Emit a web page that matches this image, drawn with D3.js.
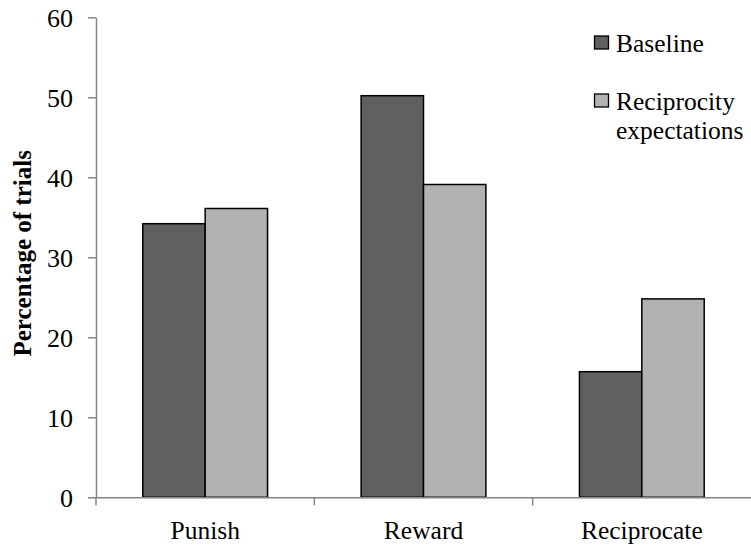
<!DOCTYPE html>
<html><head><meta charset="utf-8">
<script src="https://cdn.jsdelivr.net/npm/d3@7"></script>
<style>body{margin:0;background:#fff}svg{display:block}</style>
</head><body>
<svg id="c" width="751" height="546"></svg>
<script>
const categories = ["Punish", "Reward", "Reciprocate"];
const seriesNames = ["Baseline", "Reciprocity expectations"];
const baseline = [34.2, 50.2, 15.7];
const reciprocity = [36.1, 39.1, 24.8];
const yTicks = [0, 10, 20, 30, 40, 50, 60];

const colors = ["#606060", "#b2b2b2"];
const svg = d3.select("#c");
const font = "'Liberation Serif','Times New Roman',serif";
const mLeft = 96, mRight = 751, mTop = 17.3, mBottom = 497.3;

const x = d3.scaleBand().domain(categories).range([mLeft, mRight]).paddingInner(0).paddingOuter(0);
const y = d3.scaleLinear().domain([0, 60]).range([mBottom, mTop]);
const data = [baseline, reciprocity];
const groupW = x.bandwidth();
const barW = groupW / (2 + 1.5);
const xs = d3.scaleBand().domain([0, 1]).range([0, barW * 2]);

categories.forEach((c, i) => {
  data.forEach((s, j) => {
    svg.append("rect")
      .attr("x", x(c) + (groupW - barW * 2) / 2 + xs(j))
      .attr("y", y(s[i]))
      .attr("width", xs.bandwidth())
      .attr("height", y(0) - y(s[i]))
      .attr("fill", colors[j])
      .attr("stroke", "#000").attr("stroke-width", 1.5);
  });
});

// y axis
const yAxis = svg.append("g").attr("transform", `translate(${mLeft},0)`)
  .call(d3.axisLeft(y).tickValues(yTicks).tickSize(8).tickPadding(15).tickSizeOuter(0));
yAxis.select(".domain").attr("stroke", "#868686").attr("stroke-width", 1.5);
yAxis.selectAll(".tick line").attr("stroke", "#868686").attr("stroke-width", 1.5);
yAxis.selectAll("text").attr("font-family", font).attr("font-size", 26).attr("fill", "#000").attr("dy", "0.34em");

// x axis
const xAxis = svg.append("g").attr("transform", `translate(0,${mBottom})`)
  .call(d3.axisBottom(x).tickSize(0));
xAxis.select(".domain").attr("stroke", "#868686").attr("stroke-width", 1.5);
xAxis.selectAll("text").attr("font-family", font).attr("font-size", 25.5).attr("fill", "#000")
  .attr("y", 539.5 - mBottom).attr("dy", 0);
// category boundary ticks
const bounds = categories.map(c => x(c));
svg.append("g").selectAll("line").data(bounds).join("line")
  .attr("x1", d => d).attr("x2", d => d).attr("y1", mBottom).attr("y2", mBottom + 8)
  .attr("stroke", "#868686").attr("stroke-width", 1.5);

// y title
svg.append("text")
  .attr("transform", `translate(31,${(mTop + mBottom) / 2 - 4}) rotate(-90)`)
  .attr("text-anchor", "middle")
  .attr("font-family", font).attr("font-size", 25).attr("font-weight", "bold")
  .text("Percentage of trials");

// legend
const lg = svg.append("g");
const legendRows = [[seriesNames[0]], ["Reciprocity", "expectations"]];
const lgY = [36, 94];
legendRows.forEach((lines, j) => {
  lg.append("rect").attr("x", 594.5).attr("y", lgY[j]).attr("width", 14).attr("height", 13)
    .attr("fill", colors[j]).attr("stroke", "#000").attr("stroke-width", 1.3);
  lines.forEach((t, k) => {
    lg.append("text").attr("x", 616).attr("y", lgY[j] + 15.5 + k * 29)
      .attr("font-family", font).attr("font-size", 25.5).attr("fill", "#000").text(t);
  });
});
</script>
</body></html>
